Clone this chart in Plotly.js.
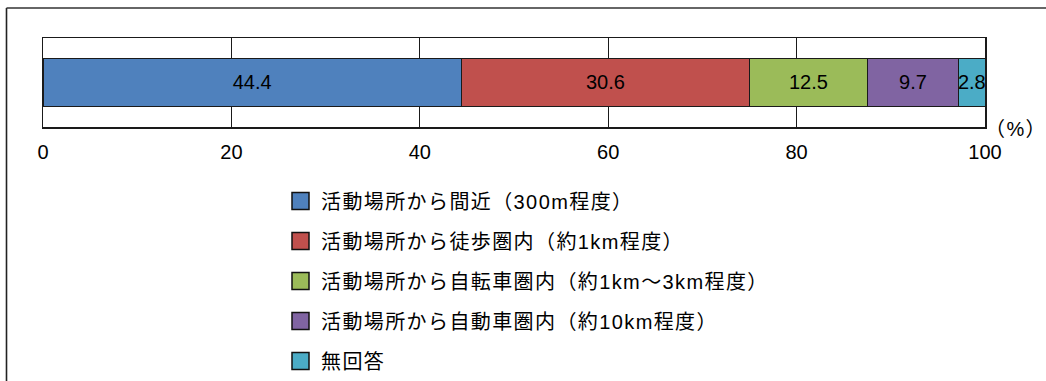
<!DOCTYPE html>
<html>
<head>
<meta charset="utf-8">
<script src="https://cdn.plot.ly/plotly-3.0.1.min.js"></script>
<style>
  html, body { margin: 0; padding: 0; background: #ffffff; }
  #chart { width: 1046px; height: 381px; }
  /* wider tracking for the legend labels and unit (also applies while Plotly measures them) */
  .annotation-text { letter-spacing: 1.4px; }
</style>
</head>
<body>
<div id="chart"></div>
<script>
// Survey: distance from activity place (percent of respondents)
const categories = ['全体'];
const seriesNames = [
  '活動場所から間近（300m程度）',
  '活動場所から徒歩圏内（約1km程度）',
  '活動場所から自転車圏内（約1km～3km程度）',
  '活動場所から自動車圏内（約10km程度）',
  '無回答'
];
const seriesValues = [44.4, 30.6, 12.5, 9.7, 2.8];
const seriesColors = ['#4F81BD', '#C0504D', '#9BBB59', '#8064A2', '#4BACC6'];
const tickValues = [0, 20, 40, 60, 80, 100];
const unitLabel = '（%）';

const W = 1046, H = 381;
const M = { l: 43, r: 61, t: 38, b: 254 };
const plotW = W - M.l - M.r;
const plotH = H - M.t - M.b;
// pixel -> paper helpers for decorations outside the plot area
const px = x => (x - M.l) / plotW;
const py = y => (H - M.b - y) / plotH;

const FONT = '"Liberation Sans", "Noto Sans CJK JP", sans-serif';

const traces = seriesNames.map((name, i) => ({
  type: 'bar',
  orientation: 'h',
  name: name,
  y: categories,
  x: [seriesValues[i]],
  text: [seriesValues[i].toFixed(1)],
  textposition: 'inside',
  insidetextanchor: 'middle',
  textangle: 0,
  constraintext: 'none',
  cliponaxis: false,
  textfont: { family: FONT, size: 20, color: '#000000' },
  marker: { color: seriesColors[i], line: { color: '#1a1a1a', width: 1 } },
  width: 0.55,
  hoverinfo: 'x+name',
  showlegend: false
}));

const shapes = [
  // outer frame (left and top edges)
  { type: 'line', xref: 'paper', yref: 'paper', x0: px(6.5), x1: px(6.5), y0: py(8), y1: py(H + 2),
    line: { color: '#222222', width: 1.6 } },
  { type: 'line', xref: 'paper', yref: 'paper', x0: px(6.5), x1: px(W + 2), y0: py(8), y1: py(8),
    line: { color: '#333333', width: 1.3 } }
];
const annotations = [
  { xref: 'paper', yref: 'paper', x: px(1016), y: py(129), xanchor: 'center', yanchor: 'middle',
    text: unitLabel, showarrow: false, borderpad: 0,
    font: { family: FONT, size: 20, color: '#000000' } }
];

// legend drawn as swatches + labels below the bar
const legendTop = 201, legendStep = 40, swatch = 17, swatchX = 292, labelX = 319;
seriesNames.forEach((name, i) => {
  const cy = legendTop + i * legendStep;
  shapes.push({
    type: 'rect', xref: 'paper', yref: 'paper',
    x0: px(swatchX), x1: px(swatchX + swatch),
    y0: py(cy - swatch / 2), y1: py(cy + swatch / 2),
    fillcolor: seriesColors[i], line: { color: '#111111', width: 1.5 }
  });
  annotations.push({
    xref: 'paper', yref: 'paper', x: px(labelX), y: py(cy + 1),
    xanchor: 'left', yanchor: 'middle', text: name, showarrow: false,
    font: { family: FONT, size: 20, color: '#000000' }
  });
});

const layout = {
  width: W, height: H,
  margin: { l: M.l, r: M.r, t: M.t, b: M.b, pad: 0 },
  paper_bgcolor: '#ffffff',
  plot_bgcolor: '#ffffff',
  barmode: 'stack',
  showlegend: false,
  xaxis: {
    range: [0, 100],
    tickvals: tickValues,
    ticktext: tickValues.map(String),
    ticks: '',
    ticklabelstandoff: 6,
    tickfont: { family: FONT, size: 20, color: '#000000' },
    showgrid: true, gridcolor: '#1a1a1a', gridwidth: 1.3,
    zeroline: false,
    showline: true, mirror: true, linecolor: '#1a1a1a', linewidth: 1.5,
    fixedrange: true
  },
  yaxis: {
    range: [-0.5, 0.5],
    showticklabels: false, ticks: '',
    showgrid: false, zeroline: false,
    showline: true, mirror: true, linecolor: '#1a1a1a', linewidth: 1.5,
    fixedrange: true
  },
  shapes: shapes,
  annotations: annotations
};

Plotly.newPlot('chart', traces, layout, { staticPlot: true, displayModeBar: false });
</script>
</body>
</html>
